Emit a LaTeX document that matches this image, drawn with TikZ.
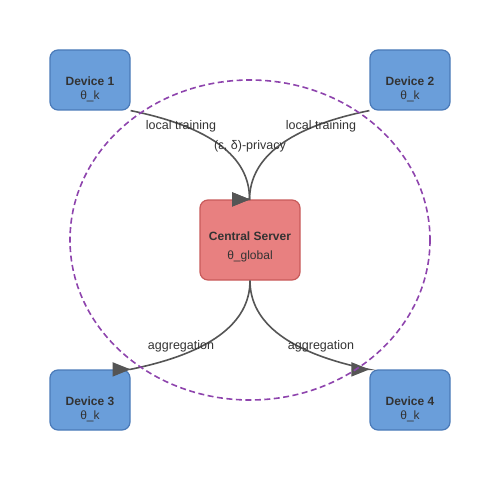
\documentclass[tikz,border=0pt]{standalone}
\usepackage{fontspec}
\setmainfont{Liberation Sans}
\usetikzlibrary{arrows.meta}
\definecolor{devfill}{RGB}{106,158,218}
\definecolor{devline}{RGB}{74,122,184}
\definecolor{srvfill}{RGB}{232,128,128}
\definecolor{srvline}{RGB}{200,90,90}
\definecolor{ring}{RGB}{142,68,173}
\definecolor{ink}{RGB}{85,85,85}
\definecolor{txt}{RGB}{51,51,51}

\begin{document}
\begin{tikzpicture}[x=1pt,y=-1pt,
        device/.style={draw=devline,fill=devfill,line width=1.2pt,rounded corners=8pt,
          minimum width=80pt,minimum height=60pt,inner sep=0pt},
        server/.style={draw=srvline,fill=srvfill,line width=1.2pt,rounded corners=8pt,
          minimum width=100pt,minimum height=80pt,inner sep=0pt},
        boxtitle/.style={text=txt,font=\fontsize{12}{14}\selectfont\bfseries,inner sep=0pt},
        boxparam/.style={text=txt,font=\fontsize{12}{14}\selectfont,inner sep=0pt},
        lbl/.style={text=txt,font=\fontsize{12.5}{15}\selectfont,inner sep=0pt},
        flow/.style={draw=ink,line width=1.6pt,-{Triangle[length=18pt,width=14pt]}}]
        \useasboundingbox (0,0) rectangle (500,500);

        \node[device] (d1) at (90, 80) {};
        \node[device] (d2) at (410, 80) {};
        \node[device] (d3) at (90, 400) {};
        \node[device] (d4) at (410, 400) {};
        \node[server] (srv) at (250, 240) {};

        \node[boxtitle] (n1) at (90, 81) {Device 1};
        \node[boxparam] (p1) at (90, 96) {θ\_k};
        \node[boxtitle] (n2) at (410, 81) {Device 2};
        \node[boxparam] (p2) at (410, 96) {θ\_k};
        \node[boxtitle] (n3) at (90, 401) {Device 3};
        \node[boxparam] (p3) at (90, 416) {θ\_k};
        \node[boxtitle] (n4) at (410, 401) {Device 4};
        \node[boxparam] (p4) at (410, 416) {θ\_k};
        \node[boxtitle] (ns) at (250, 236) {Central Server};
        \node[boxparam] (ps) at (250, 256) {θ\_global};

        % local updates in, aggregate out
        \draw[flow] (d1.south east) .. controls (210, 126.7) and (250, 156.7) .. ([xshift=-0.5pt]srv.north) -- (srv.north);
        \draw[flow] (d2.south west) .. controls (290, 126.7) and (250, 156.7) .. ([xshift=-0.5pt]srv.north) -- (srv.north);
        \draw[flow] (srv.south) .. controls (250, 323.3) and (210, 353.3) .. ([xshift=-0.5pt]d3.north east) -- (d3.north east);
        \draw[flow] (srv.south) .. controls (250, 323.3) and (290, 353.3) .. ([xshift=-0.5pt]d4.north west) -- (d4.north west);

        \node[lbl] (l1) at (181, 126) {local training};
        \node[lbl] (l2) at (321, 126) {local training};
        \node[lbl] (dp) at (250, 146) {(ε, δ)-privacy};
        \node[lbl] (a3) at (181, 346) {aggregation};
        \node[lbl] (a4) at (321, 346) {aggregation};

        \draw[ring,line width=1.6pt,dash pattern=on 6pt off 3.5pt] (250, 240) ellipse [x radius=180, y radius=160];
\end{tikzpicture}
\end{document}
